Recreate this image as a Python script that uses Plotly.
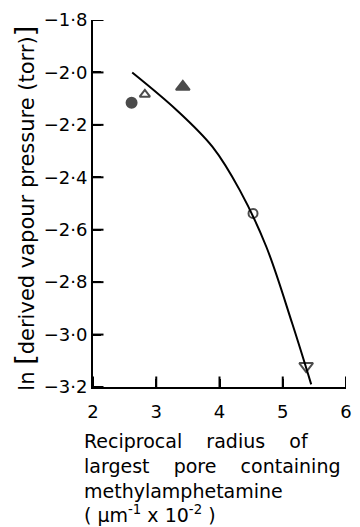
import plotly.graph_objects as go

# Data points
pt_x = [2.61, 2.82, 3.42, 4.53, 5.37]
pt_y = [-2.116, -2.084, -2.055, -2.538, -3.12]
pt_symbol = ["circle", "triangle-up-open", "triangle-up", "circle-open", "triangle-down-open"]
pt_size = [10, 9, 12, 9, 12]

# Fitted curve
curve_x = [2.62, 3.32, 3.89, 4.32, 4.74, 5.15, 5.45]
curve_y = [-2.00, -2.143, -2.284, -2.449, -2.665, -2.958, -3.19]

x_ticks = [2, 3, 4, 5, 6]
x_ticklabels = ["2", "3", "4", "5", "6"]
y_ticks = [-1.8, -2.0, -2.2, -2.4, -2.6, -2.8, -3.0, -3.2]
y_ticklabels = ["\u22121\u00b78", "\u22122\u00b70", "\u22122\u00b72", "\u22122\u00b74",
                "\u22122\u00b76", "\u22122\u00b78", "\u22123\u00b70", "\u22123\u00b72"]

FONT = "DejaVu Sans"
X_RANGE = [2, 6]
Y_RANGE = [-3.2, -1.8]

fig = go.Figure()
fig.add_trace(go.Scatter(x=curve_x, y=curve_y, mode="lines",
                         line=dict(color="black", width=2, shape="spline", smoothing=1.0),
                         showlegend=False, hoverinfo="skip"))
fig.add_trace(go.Scatter(x=pt_x, y=pt_y, mode="markers",
                         marker=dict(symbol=pt_symbol, size=pt_size, color="black",
                                     line=dict(color="black", width=2)),
                         showlegend=False))

# inside tick marks drawn as clipped line markers at the tick values
fig.add_trace(go.Scatter(x=x_ticks, y=[Y_RANGE[0]] * len(x_ticks), mode="markers",
                         cliponaxis=True, hoverinfo="skip", showlegend=False,
                         marker=dict(symbol="line-ns", size=15,
                                     line=dict(color="black", width=2))))
fig.add_trace(go.Scatter(x=[X_RANGE[0]] * len(y_ticks), y=y_ticks, mode="markers",
                         cliponaxis=True, hoverinfo="skip", showlegend=False,
                         marker=dict(symbol="line-ew", size=15,
                                     line=dict(color="black", width=2))))

W, H = 360, 527
ml, mr, mt, mb = 93, 8, 20, 140
pw, ph = W - ml - mr, H - mt - mb

fig.update_layout(
    width=W, height=H, margin=dict(l=ml, r=mr, t=mt, b=mb),
    plot_bgcolor="white", paper_bgcolor="white",
    xaxis=dict(range=X_RANGE, tickmode="array", tickvals=x_ticks, ticktext=x_ticklabels,
               showline=True, linecolor="black", linewidth=2,
               ticks="inside", ticklen=8, tickwidth=2, tickcolor="#000000",
               showgrid=False, zeroline=False, ticklabelstandoff=7,
               tickfont=dict(family=FONT, size=18, color="black")),
    yaxis=dict(range=Y_RANGE, tickmode="array", tickvals=y_ticks, ticktext=y_ticklabels,
               showline=True, linecolor="black", linewidth=2,
               ticks="inside", ticklen=8, tickwidth=2, tickcolor="#000000",
               showgrid=False, zeroline=False, ticksuffix="\u00a0",
               tickfont=dict(family=FONT, size=18, color="black")),
)

sp = "\u00a0\u00a0\u00a0\u00a0"
xlines = ["Reciprocal" + sp + "radius" + sp + "of",
          "largest" + sp + "pore" + sp + "containing",
          "methylamphetamine",
          "(\u00a0\u00b5m<sup>-1</sup> x 10<sup>-2</sup>\u00a0)"]
centers = [441, 466, 491, 514]
for txt, yc in zip(xlines, centers):
    fig.add_annotation(text=txt, xref="paper", yref="paper",
                       x=(82 - ml) / pw, y=(H - mb - yc) / ph,
                       xanchor="left", yanchor="middle", showarrow=False,
                       font=dict(family=FONT, size=19, color="black"))

fig.add_annotation(text="ln <span style='font-size:27px'>[</span>derived vapour pressure (torr)<span style='font-size:27px'>]</span>",
                   xref="paper", yref="paper", x=(22 - ml) / pw, y=(H - mb - 208) / ph,
                   xanchor="center", yanchor="middle", textangle=-90, showarrow=False,
                   font=dict(family=FONT, size=21, color="black"))

fig.write_html("out.html")
